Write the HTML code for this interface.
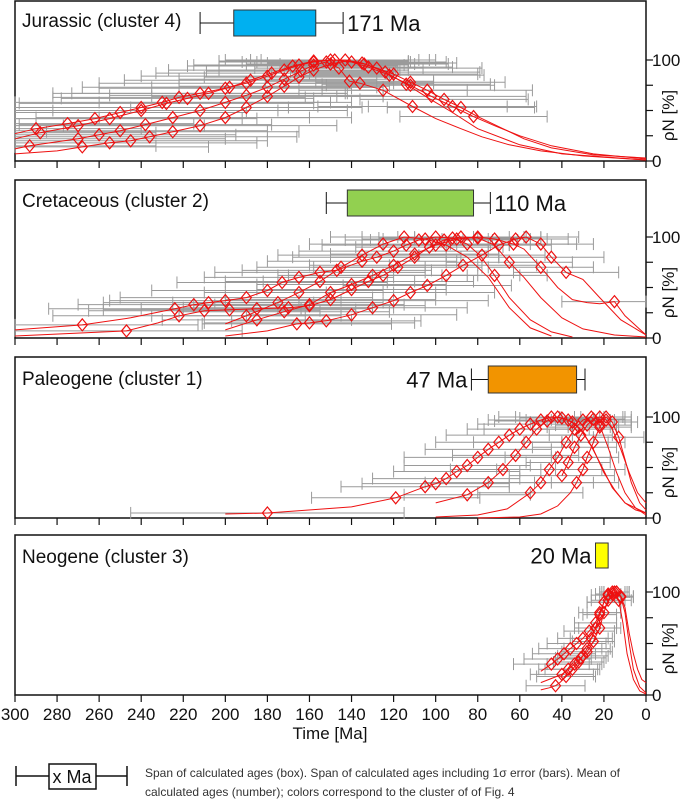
<!DOCTYPE html>
<html><head><meta charset="utf-8">
<style>
html,body{margin:0;padding:0;background:#fff;}
svg{display:block;font-family:"Liberation Sans",sans-serif;}
</style></head>
<body>
<svg id="chart" width="685" height="799" viewBox="0 0 685 799" xmlns="http://www.w3.org/2000/svg">
  <g id="panels"></g>
  <g id="xaxis"></g>
  <text x="330" y="739" font-size="17" text-anchor="middle" fill="#111">Time [Ma]</text>
  <g>
    <line x1="16" y1="776" x2="127" y2="776" stroke="#111" stroke-width="1.5"/>
    <line x1="16" y1="766" x2="16" y2="786" stroke="#111" stroke-width="1.5"/>
    <line x1="127" y1="766" x2="127" y2="786" stroke="#111" stroke-width="1.5"/>
    <rect x="49" y="764" width="47" height="25" fill="#fff" stroke="#111" stroke-width="1.5"/>
    <text x="72" y="783" font-size="18" text-anchor="middle" fill="#111">x Ma</text>
    <text x="145" y="777" font-size="12" fill="#333">Span of calculated ages (box). Span of calculated ages including 1σ error (bars). Mean of</text>
    <text x="145" y="796" font-size="12" fill="#333">calculated ages (number); colors correspond to the cluster of of Fig. 4</text>
  </g>
</svg>
<script>
// ---- data ----
const xTicks = [300,280,260,240,220,200,180,160,140,120,100,80,60,40,20,0];
const yTicks = [0,25,50,75,100];
const yLabels = ["0","100"];
const panelTitles = ["Jurassic (cluster 4)","Cretaceous (cluster 2)","Paleogene (cluster 1)","Neogene (cluster 3)"];
const meanAges = ["171 Ma","110 Ma","47 Ma","20 Ma"];
const boxColors = ["#00b0f0","#92d050","#f29400","#ffff00"];
// box span [minAge,maxAge], whisker span [minAge,maxAge]
const boxSpans = [[196,157],[142,82],[75,33],[24,18]];
const whiskerSpans = [[212,144],[152,74],[83,29],[24,18]];
// curves: [age, rhoN, err] (err>0 => measured point with ±err bar)
const jurassic = [
 [[300,27,0],[290,32,50],[275,37,60],[262,42,70],[250,48,60],[240,53,70],[230,58,80],[222,63,60],[212,67,70],[200,72,60],[190,77,70],[180,84,60],[172,90,55],[165,95,50],[158,98,45],[150,100,50],[143,100,40],[135,97,45],[128,92,50],[120,86,40],[112,78,45],[104,70,50],[96,61,40],[88,53,35],[80,44,0],[70,34,0],[58,22,0],[45,13,0],[25,6,0],[0,3,0]],
 [[300,22,0],[288,28,55],[270,35,60],[255,42,70],[240,50,65],[228,57,70],[218,62,60],[208,67,65],[198,73,70],[188,80,60],[178,87,55],[168,94,50],[158,99,45],[148,100,40],[140,98,45],[132,93,40],[122,85,45],[112,75,40],[102,64,45],[92,54,40],[82,44,35],[72,35,0],[60,25,0],[45,15,0],[25,7,0],[0,2,0]],
 [[300,12,0],[293,15,60],[270,22,70],[260,26,65],[250,30,70],[238,36,60],[225,43,65],[212,50,70],[200,58,60],[190,65,65],[180,73,55],[172,81,50],[164,89,45],[158,95,45],[152,98,40],[146,92,40],[141,79,40],[136,77,35],[125,70,40],[111,54,45],[100,42,0],[88,32,0],[78,24,0],[65,16,0],[50,10,0],[30,5,0],[0,1,0]],
 [[300,7,0],[280,10,0],[268,14,60],[255,18,70],[245,20,65],[236,24,70],[225,29,60],[212,35,65],[200,43,60],[190,53,55],[180,64,55],[172,74,50],[165,83,45],[158,90,45],[150,96,40],[142,99,0],[134,96,40],[124,88,45],[114,76,40],[104,63,0],[92,48,0],[80,32,0],[60,16,0],[40,7,0],[0,1,0]]
];
const cretaceous = [
 [[300,8,0],[268,13,55],[245,20,0],[224,29,60],[215,33,55],[208,35,50],[200,37,55],[190,40,60],[180,47,55],[173,55,50],[165,60,45],[155,65,50],[147,67,45],[135,76,45],[128,80,40],[120,86,45],[114,92,40],[108,97,35],[100,100,35],[92,99,35],[85,93,30],[79,82,0],[72,62,25],[65,40,0],[55,18,0],[45,6,0],[35,1,0]],
 [[300,2,0],[247,7,55],[232,15,0],[222,22,60],[210,27,55],[198,28,60],[185,29,55],[170,30,50],[160,32,55],[150,38,50],[140,48,45],[132,56,50],[125,62,45],[118,70,40],[110,80,40],[103,90,35],[96,97,35],[88,100,30],[80,99,30],[72,92,0],[65,75,30],[58,60,0],[50,40,0],[40,20,0],[30,9,0],[15,3,0],[0,1,0]],
 [[200,8,0],[185,18,45],[172,26,50],[160,33,45],[150,45,50],[140,53,45],[130,62,45],[120,72,40],[110,83,40],[100,92,35],[90,98,35],[80,100,30],[72,98,25],[63,93,30],[58,88,0],[50,70,25],[42,50,0],[35,38,0],[28,35,0],[22,34,0],[15,36,25],[10,22,0],[0,3,0]],
 [[200,2,0],[180,7,0],[166,14,45],[160,15,50],[152,17,45],[140,23,50],[130,30,45],[120,37,45],[112,45,40],[104,52,40],[95,62,35],[87,72,35],[78,82,30],[70,92,25],[62,98,25],[57,100,25],[50,93,25],[45,80,25],[38,65,25],[30,58,0],[22,40,0],[12,18,0],[0,3,0]],
 [[200,14,0],[190,22,45],[175,35,50],[165,45,45],[155,56,45],[145,70,40],[135,82,40],[125,93,35],[115,100,35],[105,98,30],[95,92,30],[85,80,0],[75,60,0],[65,30,0],[55,10,0],[45,2,0]]
];
const paleogene = [
 [[200,4,0],[180,5,65],[140,11,0],[119,20,40],[105,31,40],[100,34,35],[95,39,35],[90,46,30],[85,52,30],[80,60,35],[75,68,30],[70,75,30],[65,82,30],[60,88,25],[55,93,25],[50,97,25],[45,100,25],[40,99,20],[35,95,20],[30,85,0],[25,68,0],[20,45,0],[15,28,0],[10,15,0],[5,8,0],[0,5,0]],
 [[100,15,0],[85,23,30],[75,35,30],[68,48,25],[62,62,30],[57,75,25],[52,88,25],[47,96,25],[42,100,20],[37,97,20],[32,90,15],[27,75,0],[22,55,0],[16,30,0],[10,15,0],[0,5,0]],
 [[100,1,0],[80,3,0],[66,9,0],[55,25,25],[50,35,25],[46,48,25],[42,60,25],[38,75,20],[34,88,20],[30,97,15],[26,100,15],[22,92,15],[18,70,0],[14,45,0],[10,25,0],[5,10,0],[0,3,0]],
 [[80,0,0],[60,1,0],[50,4,0],[42,12,0],[36,25,0],[33,35,20],[30,48,20],[28,60,15],[25,75,15],[22,90,15],[19,100,12],[16,95,12],[13,80,12],[10,58,0],[7,35,0],[3,15,0],[0,8,0]],
 [[40,42,25],[37,55,20],[34,70,20],[31,82,15],[28,92,15],[25,98,15],[22,100,12],[19,97,12],[16,88,0],[12,68,0],[8,45,0],[4,25,0],[0,15,0]]
];
const neogene = [
 [[50,23,0],[45,30,18],[42,35,16],[39,40,15],[36,45,15],[33,50,14],[30,55,12],[27,62,12],[24,70,10],[22,80,10],[20,90,8],[18,97,8],[16,100,6],[14,100,6],[12,96,6],[10,85,0],[8,60,0],[6,40,0],[4,25,0],[2,15,0],[0,12,0]],
 [[50,12,0],[45,16,0],[40,20,15],[37,25,14],[34,30,13],[31,36,12],[28,42,12],[25,52,10],[22,65,10],[20,80,8],[18,92,8],[16,98,6],[14,100,6],[12,95,6],[10,80,0],[8,50,0],[6,25,0],[3,8,0],[0,2,0]],
 [[50,5,0],[46,7,0],[43,9,14],[41,12,0],[38,18,14],[35,25,13],[32,32,12],[30,38,12],[28,45,11],[26,55,10],[24,65,10],[22,78,8],[20,90,8],[18,98,6],[15,100,6],[13,92,6],[11,70,0],[9,40,0],[6,15,0],[3,4,0],[0,1,0]]
];
const panelData = [jurassic, cretaceous, paleogene, neogene];

// ---- layout ----
const X0 = 15, X1 = 646;
const panels = [
 {top:1, base:161, h:101, titleY:27, boxY:10, boxH:26, textSide:"right"},
 {top:180, base:338, h:101, titleY:207, boxY:190, boxH:26, textSide:"right"},
 {top:357, base:518, h:101, titleY:385, boxY:366, boxH:27, textSide:"left"},
 {top:535, base:695, h:103, titleY:563, boxY:543, boxH:25, textSide:"left"}
];
const NS = "http://www.w3.org/2000/svg";
function xs(age){ return X1 - (age/300)*(X1-X0); }
function mk(tag, attrs, parent){
  const e = document.createElementNS(NS, tag);
  for (const k in attrs) e.setAttribute(k, attrs[k]);
  parent.appendChild(e); return e;
}
const root = document.getElementById('panels');
panels.forEach((p, pi) => {
  const ys = v => p.base - v/100*p.h;
  const g = mk('g', {}, root);
  
  
  const frame = mk('rect', {x:X0, y:p.top, width:X1-X0, height:p.base-p.top, fill:'none', stroke:'#111', 'stroke-width':1.5}, g);
  
  
  xTicks.forEach(t => {
    const l = mk('line', {x1:xs(t), x2:xs(t), y1:p.base, y2:p.base+7, stroke:'#111', 'stroke-width':1.2}, g);
    
    
  });
  yTicks.forEach(t => {
    const l = mk('line', {x1:X1, x2:X1+7, y1:ys(t), y2:ys(t), stroke:'#111', 'stroke-width':1.2}, g);
    
    
  });
  yLabels.forEach(s => {
    const t = mk('text', {x:X1+6, y:ys(+s)+6, 'font-size':17, fill:'#111'}, g);
    t.textContent = s;
    
    
  });
  const yt = mk('text', {x:0, y:0, 'font-size':17, fill:'#111', 'text-anchor':'middle', transform:`translate(${X1+28},${ys(45)}) rotate(-90)`}, g);
  yt.textContent = 'ρN [%]';
  
  
  const tt = mk('text', {x:22, y:p.titleY, 'font-size':19, fill:'#111'}, g);
  tt.textContent = panelTitles[pi];
  
  
  const ws = whiskerSpans[pi], bs = boxSpans[pi];
  const cy = p.boxY + p.boxH/2;
  if (ws[0] !== bs[0] || ws[1] !== bs[1]) {
    const wl = mk('line', {x1:xs(ws[0]), x2:xs(ws[1]), y1:cy, y2:cy, stroke:'#111', 'stroke-width':1}, g);
    
    
    [ws[0], ws[1]].forEach(a => {
      const c = mk('line', {x1:xs(a), x2:xs(a), y1:cy-11, y2:cy+11, stroke:'#111', 'stroke-width':1}, g);
      
      
    });
  }
  const br = mk('rect', {x:xs(bs[0]), y:p.boxY, width:xs(bs[1])-xs(bs[0]), height:p.boxH, fill:boxColors[pi], stroke:'#333', 'stroke-width':1}, g);
  
  
  const mt = p.textSide === 'right'
    ? mk('text', {x:xs(ws[1])+4, y:cy+8, 'font-size':22, fill:'#111'}, g)
    : mk('text', {x:xs(ws[0])-4, y:cy+8, 'font-size':22, fill:'#111', 'text-anchor':'end'}, g);
  mt.textContent = meanAges[pi];
  
  
  const eg = mk('g', {stroke:'#9a9a9a', 'stroke-width':1}, g);
  
  
  panelData[pi].forEach(curve => curve.forEach(pt => {
    if (pt[2] > 0) {
      const y = ys(pt[1]);
      const a = Math.min(300, pt[0]+pt[2]), b = Math.max(0, pt[0]-pt[2]);
      const l = mk('line', {x1:xs(a), x2:xs(b), y1:y, y2:y}, eg);
      
      
      [a, b].forEach(e => {
        const c = mk('line', {x1:xs(e), x2:xs(e), y1:y-6, y2:y+6}, eg);
        
        
      });
    }
  }));
  panelData[pi].forEach((curve, ci) => {
    const d = curve.map((pt, i) => (i ? 'L' : 'M') + xs(pt[0]).toFixed(1) + ',' + ys(pt[1]).toFixed(1)).join(' ');
    const path = mk('path', {d, fill:'none', stroke:'#ee1111', 'stroke-width':1}, g);
    
    
    curve.forEach(pt => {
      if (pt[2] > 0) {
        const x = xs(pt[0]), y = ys(pt[1]);
        const dm = mk('path', {d:`M${x},${y-6} L${x+5},${y} L${x},${y+6} L${x-5},${y} Z`, fill:'none', stroke:'#ee1111', 'stroke-width':1.2}, g);
        
        
      }
    });
  });
});
const xa = document.getElementById('xaxis');
xTicks.forEach(t => {
  const tx = mk('text', {x:xs(t), y:720, 'font-size':17, 'text-anchor':'middle', fill:'#111'}, xa);
  tx.textContent = String(t);
  
  
});
</script>
</body></html>
